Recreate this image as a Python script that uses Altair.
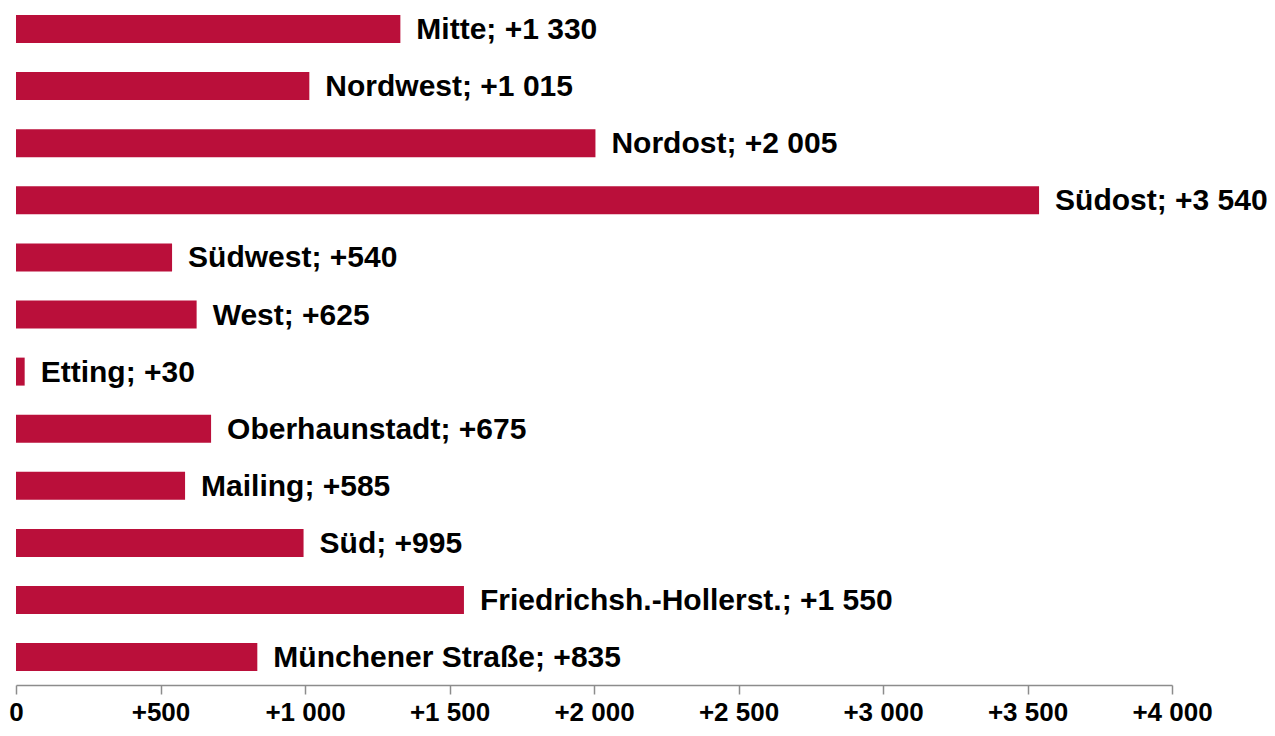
import altair as alt
import pandas as pd

districts = ["Mitte", "Nordwest", "Nordost", "Südost", "Südwest", "West", "Etting",
             "Oberhaunstadt", "Mailing", "Süd", "Friedrichsh.-Hollerst.", "Münchener Straße"]
values = [1330, 1015, 2005, 3540, 540, 625, 30, 675, 585, 995, 1550, 835]
ticks = [0, 500, 1000, 1500, 2000, 2500, 3000, 3500, 4000]


def fmt(v):
    return "+" + f"{v:,}".replace(",", " ")


df = pd.DataFrame({
    "district": districts,
    "value": values,
    "label": [f"{d}; {fmt(v)}" for d, v in zip(districts, values)],
})

x = alt.X("value:Q",
          scale=alt.Scale(domain=[0, 4000], nice=False, zero=True),
          axis=alt.Axis(values=ticks, title=None, grid=False,
                        labelExpr="datum.value == 0 ? '0' : '+' + replace(format(datum.value, ','), ',', ' ')",
                        labelFont="Liberation Sans", labelFontWeight="bold", labelFontSize=26,
                        labelColor="#000000", labelPadding=5, labelFlush=False,
                        domainColor="#8c8c8c", domainWidth=1.5,
                        tickColor="#8c8c8c", tickWidth=1.5, tickSize=9))
y = alt.Y("district:N", sort=districts,
          scale=alt.Scale(paddingInner=0.51, paddingOuter=0.183, align=0.335),
          axis=None)

bars = alt.Chart(df).mark_bar(color="#BA0F3A", cornerRadius=0).encode(x=x, y=y)
text = alt.Chart(df).mark_text(align="left", baseline="middle", dx=16, dy=1,
                               font="Liberation Sans", fontWeight="bold",
                               fontSize=30, color="#000000").encode(
    x="value:Q", y=alt.Y("district:N", sort=districts), text="label:N")

chart = (bars + text).properties(
    width=1156, height=677,
    autosize=alt.AutoSizeParams(type="none"),
    padding={"left": 8, "top": 0, "right": 95, "bottom": 43},
).configure_view(stroke=None)

chart.save("out.html", embed_options={"renderer": "svg", "actions": False})
